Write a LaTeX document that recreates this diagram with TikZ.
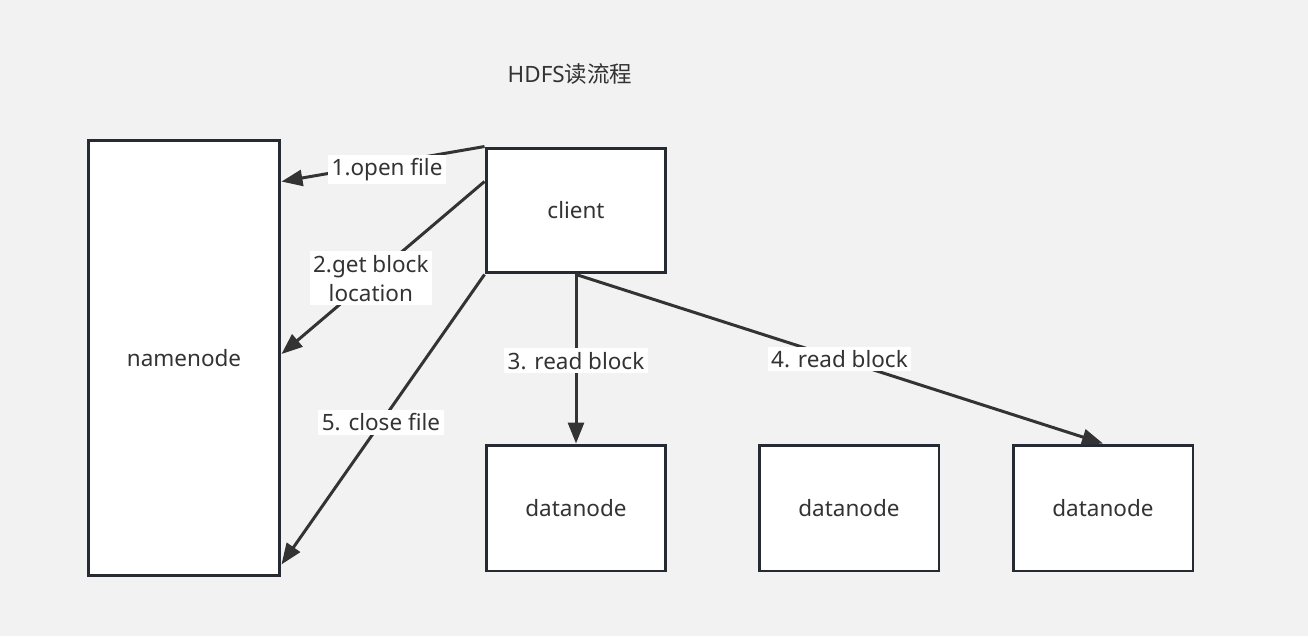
\documentclass[tikz,border=0pt]{standalone}
\usepackage{fontspec}
\setmainfont{Noto Sans}
\newfontfamily\cjk{Noto Sans CJK SC}
\usetikzlibrary{arrows.meta,positioning}
\definecolor{bgcol}{HTML}{F2F2F2}
\definecolor{linecol}{HTML}{333333}
\definecolor{boxcol}{HTML}{262B33}

\tikzset{
  box/.style={draw=boxcol,line width=1.7pt,fill=white,text=linecol,
    font=\fontsize{12.8}{15}\selectfont},
  flow/.style={->,line width=1.7pt,draw=linecol},
  lbl/.style={fill=white,text=linecol,inner sep=2pt,align=center,
    font=\fontsize{12.8}{16.5}\selectfont}
}

\begin{document}
\begin{tikzpicture}[x=0.02cm,y=-0.02cm,>={Triangle[length=0.42cm,width=0.32cm]}]
  % background
  \fill[bgcol] (0,0) rectangle (1308,636);
  \useasboundingbox (0,0) rectangle (1308,636);

  % title
  \node[text=linecol,font=\fontsize{12.8}{15}\selectfont] (title) at (570,74) {HDFS{\cjk 读流程}};

  % namenode
  \node[box,minimum width=3.84cm,minimum height=8.72cm] (namenode) at (184,358) {namenode};

  % client
  \node[box,minimum width=3.6cm,minimum height=2.5cm] (client) at (576,210.5) {client};

  % datanodes
  \node[box,minimum width=3.6cm,minimum height=2.52cm] (dn1) at (576,508) {datanode};
  \node[box,minimum width=3.6cm,minimum height=2.52cm] (dn2) at (849,508) {datanode};
  \node[box,minimum width=3.6cm,minimum height=2.52cm] (dn3) at (1103,508) {datanode};

  % arrows
  \draw[flow] (client.north west) -- ([yshift=-0.86cm]namenode.north east)
    node[lbl,pos=0.48,yshift=-0.12cm] (l1) {1.open file};
  \draw[flow] ([yshift=-0.7cm]client.north west) -- ([yshift=0.08cm]namenode.east)
    node[lbl,pos=0.56] (l2) {2.get block\\location};
  \draw[flow] (client.south) -- (dn1.north)
    node[lbl,pos=0.51] (l3) {3. read block};
  \draw[flow] (client.south) -- (dn3.north)
    node[lbl,pos=0.5] (l4) {4. read block};
  \draw[flow] (client.south west) -- ([yshift=0.26cm]namenode.south east)
    node[lbl,pos=0.51] (l5) {5. close file};
\end{tikzpicture}
\end{document}
